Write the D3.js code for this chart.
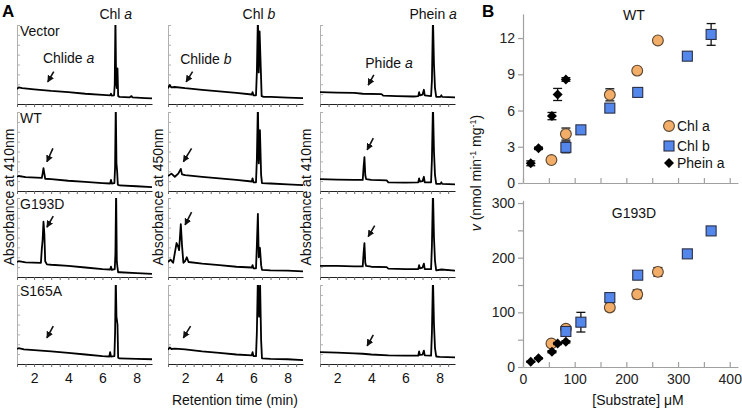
<!DOCTYPE html>
<html><head><meta charset="utf-8">
<script src="https://cdn.jsdelivr.net/npm/d3@7"></script>
<style>body{margin:0;background:#fff}svg{font-family:Arial,"Liberation Sans",sans-serif}</style>
</head><body><svg id="c" width="742" height="411"></svg>
<script>
// ---------- Panel A data ----------
const rowLabels = ["Vector", "WT", "G193D", "S165A"];
const colTitles = [["Chl ", "a"], ["Chl ", "b"], ["Phein ", "a"]];
const titlePeakTimes = [6.78, 6.32, 7.62];
const productLabels = [["Chlide ", "a"], ["Chlide ", "b"], ["Phide ", "a"]];
const productLabelPos = [[2.52, 52], [1.71, 51], [3.65, 46]];
const yAxisLabels = ["Absorbance at 410nm", "Absorbance at 450nm", "Absorbance at 410nm"];
const rtTicksLabeled = [2, 4, 6, 8];
const rtDomain = [1, 8.9];

// traces [time (min), relative absorbance (%)]
const chlA_Vector = [[1,19],[1.1,21],[1.3,20],[2,18.5],[3,16.5],[4,15],[5,13],[6,11.5],[6.45,11],[6.5,13],[6.55,10.5],[6.68,11],[6.72,25],[6.76,110],[6.8,30],[6.84,20],[6.88,45],[6.92,10],[7,9],[7.6,8.5],[7.7,10],[7.75,8.5],[8.5,7.5],[8.9,7]];
const chlA_WT = [[1,18],[1.1,19],[1.5,17.5],[2.45,16.5],[2.5,22],[2.55,29],[2.6,22],[2.65,15.5],[3,15],[4,13],[5,11.5],[6,10],[6.45,9.5],[6.5,14],[6.55,9.5],[6.7,10],[6.74,30],[6.78,110],[6.82,35],[6.86,25],[6.9,8],[7,7],[8,6],[8.9,5]];
const chlA_G193D = [[1,19],[1.1,20],[1.5,18.5],[2.4,18],[2.45,35],[2.5,47],[2.55,70],[2.6,55],[2.65,20],[2.75,16],[3,15.5],[4,14],[5,12],[6,10],[6.45,9.5],[6.5,13],[6.55,9],[6.72,10],[6.76,30],[6.8,110],[6.84,20],[6.88,12],[6.92,6],[7,6],[8,5],[8.9,4]];
const chlA_S165A = [[1,19],[1.1,20],[1.4,18.5],[2,17.5],[3,16],[4,14],[5,12],[6,10],[6.4,9.5],[6.45,15],[6.5,9.5],[6.7,10],[6.74,40],[6.78,110],[6.82,60],[6.88,50],[6.92,8],[7,7],[8,6.5],[8.9,6]];

const chlB_Vector = [[1,20],[1.1,24],[1.2,21],[1.4,21.5],[2,20],[3,18],[4,16],[5,14],[5.9,12],[5.95,15],[6.0,11],[6.15,11],[6.2,40],[6.26,110],[6.31,40],[6.36,92],[6.43,45],[6.48,10],[6.6,9],[7,9],[8,8],[8.9,7.5]];
const chlB_WT = [[1,19],[1.2,22],[1.4,18],[1.6,22],[1.75,28],[1.82,21],[2,20],[3,18],[4,16],[5,14],[5.9,12],[5.95,16],[6.0,11],[6.15,11],[6.2,40],[6.26,110],[6.31,35],[6.38,77],[6.45,20],[6.5,10],[7,9.5],[8,8.5],[8.9,7.5]];
const chlB_G193D = [[1,19],[1.15,22],[1.3,18],[1.5,43],[1.6,38],[1.65,34],[1.75,67],[1.82,40],[1.9,18],[2.0,20],[2.1,25],[2.2,19],[3,17],[4,15],[5,13],[5.9,12],[5.95,15],[6.0,11],[6.15,11],[6.2,40],[6.26,80],[6.31,25],[6.38,37],[6.45,15],[6.5,9],[7,8.5],[8,8],[8.9,7]];
const chlB_S165A = [[1,18],[1.1,21],[1.2,19],[1.4,19.5],[2,18.5],[3,16],[4,14],[5,12],[5.9,11],[5.95,15],[6.0,10],[6.15,10],[6.2,40],[6.26,110],[6.33,60],[6.39,100],[6.45,30],[6.5,7],[7,6.5],[8,6],[8.9,5]];

const phe_Vector = [[1,15],[2,14.5],[3,14],[3.5,13],[4.6,12.5],[4.7,10.5],[5.5,10],[6.5,9.5],[6.75,10],[6.8,15],[6.85,11],[7.0,12],[7.08,18],[7.13,11],[7.5,10],[7.55,30],[7.61,110],[7.67,50],[7.73,20],[7.8,9],[8.05,9],[8.1,11],[8.15,9],[8.9,8.5]];
const phe_WT = [[1,15],[2,14.5],[3,14],[3.5,14],[3.55,30],[3.6,43],[3.65,20],[3.7,15],[4,14],[4.9,13.5],[5,11],[6,10.5],[6.75,11],[6.8,16],[6.85,12],[7.0,12.5],[7.08,18],[7.13,11],[7.5,11],[7.55,40],[7.61,110],[7.67,50],[7.73,20],[7.8,9],[8.05,9],[8.1,11],[8.15,9],[8.9,8.5]];
const phe_G193D = [[1,14],[2,14],[3,13.5],[3.5,13.5],[3.55,30],[3.6,43],[3.65,18],[3.7,14],[4,13],[4.9,12.5],[5,10.5],[6,10],[6.75,10],[6.8,15],[6.85,11],[7.0,12],[7.08,17],[7.13,10],[7.5,10],[7.55,40],[7.61,110],[7.67,50],[7.73,20],[7.8,8.5],[8.1,9.5],[8.9,8]];
const phe_S165A = [[1,15],[2,14.5],[3,13.5],[3.5,13],[4,12],[5,11],[6,10.5],[6.75,10.5],[6.8,16],[6.85,11.5],[7.0,12],[7.08,17],[7.13,11],[7.5,10.5],[7.55,40],[7.61,110],[7.67,50],[7.73,20],[7.8,9.5],[8,9],[8.9,8.5]];

// arrows [tHead, vHead, tTail, vTail] per column, per row
const arrowsA = [
  [[2.8,28,3.15,41],[2.75,37,3.1,54],[2.75,63,3.12,77],[2.75,33,3.12,48]],
  [[2.06,28,2.44,41],[1.9,37,2.38,54],[2.0,66,2.38,82],[1.9,33,2.32,48]],
  [[3.82,24,4.15,37],[3.76,52,4.12,67],[3.82,51,4.2,65],[3.76,23,4.12,37]]
];

// ---------- Panel B data ----------
const subChlA = [55, 83, 168, 221, 261];
const wtChlA = [1.9, 4.05, 7.3, 9.3, 11.8];
const wtChlAErr = [0.15, 0.5, 0.5, 0.2, 0.15];
const gChlA = [43, 70, 109, 133, 174];
const gChlAErr = [3, 5, 6, 8, 8];

const subChlB = [83, 112, 168, 222, 318, 364];
const wtChlB = [2.95, 4.4, 6.2, 7.5, 10.5, 12.3];
const wtChlBErr = [0.45, 0.15, 0.15, 0.15, 0.15, 0.9];
const gChlB = [65, 82, 127, 168, 207, 249];
const gChlBErr = [5, 18, 4, 4, 4, 4];

const subPhe = [15, 30, 56, 67, 83];
const wtPhe = [1.63, 2.87, 5.54, 7.33, 8.57];
const wtPheErr = [0.2, 0.1, 0.3, 0.5, 0.15];
const gPhe = [9.7, 15.8, 28, 43, 46];
const gPheErr = [1, 1, 2, 2, 2];

const seriesNames = ["Chl a", "Chl b", "Phein a"];
const xTicksB = [0, 100, 200, 300, 400];
const xMinorB = [0, 50, 100, 150, 200, 250, 300, 350, 400];
const yTicksWT = [0, 3, 6, 9, 12];
const yTicksG = [0, 100, 200, 300];
const yMinorG = [0, 50, 100, 150, 200, 250, 300];

// ---------- drawing ----------
const svg = d3.select("#c");
const traces = [
  [chlA_Vector, chlA_WT, chlA_G193D, chlA_S165A],
  [chlB_Vector, chlB_WT, chlB_G193D, chlB_S165A],
  [phe_Vector, phe_WT, phe_G193D, phe_S165A]
];
const colLeft = [17, 168, 320], panelW = 135;
const rowTop = [25, 112, 198, 285], panelH = 79;

svg.append("defs").append("marker")
  .attr("id", "ah").attr("viewBox", "0 0 10 10").attr("refX", 9).attr("refY", 5)
  .attr("markerWidth", 7).attr("markerHeight", 7).attr("markerUnits", "userSpaceOnUse")
  .attr("orient", "auto")
  .append("path").attr("d", "M0,0 L10,5 L0,10 Z").attr("fill", "#111");

function richText(g, parts, x, y, anchor) {
  const t = g.append("text").attr("x", x).attr("y", y).attr("font-size", 14)
    .attr("fill", "#111").attr("text-anchor", anchor || "start");
  t.append("tspan").text(parts[0]);
  t.append("tspan").attr("font-style", "italic").text(parts[1]);
  return t;
}

traces.forEach((col, ci) => {
  col.forEach((tr, ri) => {
    const x = d3.scaleLinear(rtDomain, [colLeft[ci], colLeft[ci] + panelW]);
    const y = d3.scaleLinear([0, 100], [rowTop[ri] + panelH, rowTop[ri]]);
    const g = svg.append("g");
    const cid = "clip" + ci + ri;
    svg.select("defs").append("clipPath").attr("id", cid)
      .append("rect").attr("x", colLeft[ci]).attr("y", rowTop[ri])
      .attr("width", panelW).attr("height", panelH);
    const yAx = d3.axisRight(y).tickValues(d3.range(0, 101, 12.5)).tickSize(3).tickFormat("");
    const ya = g.append("g").attr("transform", `translate(${colLeft[ci]},0)`).call(yAx);
    ya.selectAll("path,line").attr("stroke", "#b0b0b0");
    const xAx = d3.axisBottom(x).tickValues(d3.range(1, 9, 0.5)).tickSize(3).tickSizeOuter(0)
      .tickFormat(d => (ri === 3 && rtTicksLabeled.includes(d)) ? d : "");
    const xa = g.append("g").attr("transform", `translate(0,${rowTop[ri] + panelH})`).call(xAx);
    xa.select(".domain").attr("stroke", "#222").attr("stroke-width", 1.2);
    xa.selectAll(".tick line").attr("stroke", "#666");
    xa.selectAll("text").attr("font-size", 14).attr("fill", "#111").attr("dy", "0.95em")
      .attr("font-family", "Arial, 'Liberation Sans', sans-serif");
    g.append("path").datum(tr).attr("clip-path", `url(#${cid})`)
      .attr("d", d3.line().x(d => x(d[0])).y(d => y(d[1])))
      .attr("fill", "none").attr("stroke", "#000").attr("stroke-width", 1.8)
      .attr("stroke-linejoin", "round");
    const a = arrowsA[ci][ri];
    g.append("line").attr("x1", x(a[2])).attr("y1", y(a[3])).attr("x2", x(a[0])).attr("y2", y(a[1]))
      .attr("stroke", "#111").attr("stroke-width", 1.6).attr("marker-end", "url(#ah)");
    if (ri === 0) {
      const p = productLabelPos[ci];
      richText(g, productLabels[ci], x(p[0]), y(p[1]), "start");
      richText(g, colTitles[ci], x(titlePeakTimes[ci]), 19, "middle");
    }
    if (ci === 0) {
      g.append("text").attr("x", colLeft[0] + 3).attr("y", rowTop[ri] + 11)
        .attr("font-size", 14).attr("fill", "#111").text(rowLabels[ri]);
    }
  });
});
[14, 163, 311].forEach((xx, i) => {
  svg.append("text").attr("transform", `translate(${xx},197) rotate(-90)`)
    .attr("text-anchor", "middle").attr("font-size", 14).attr("fill", "#111").text(yAxisLabels[i]);
});
svg.append("text").attr("x", 235).attr("y", 405).attr("text-anchor", "middle")
  .attr("font-size", 14).attr("fill", "#111").text("Retention time (min)");
svg.append("text").attr("x", 2).attr("y", 17).attr("font-size", 17).attr("font-weight", "bold").text("A");
svg.append("text").attr("x", 482).attr("y", 17).attr("font-size", 17).attr("font-weight", "bold").text("B");

// ---------- Panel B ----------
const xB = d3.scaleLinear([0, 416], [523, 738]);
const yWT = d3.scaleLinear([0, 14], [183, 13.9]);
const yG = d3.scaleLinear([0, 305], [367, 200.3]);
const axisGray = "#a0a0a0";

function styleAxis(sel) {
  sel.selectAll("path,line").attr("stroke", axisGray).attr("stroke-width", 1.2);
  sel.selectAll("text").attr("font-size", 14).attr("fill", "#222")
    .attr("font-family", "Arial, 'Liberation Sans', sans-serif");
}
function drawB(y, yTicks, yMinor, labelX, data, title, titleY) {
  const gx = svg.append("g").attr("transform", `translate(0,${y.range()[0]})`)
    .call(d3.axisTop(xB).tickValues(xMinorB).tickSize(5).tickSizeOuter(0).tickFormat(""));
  styleAxis(gx);
  if (labelX) {
    const gl = svg.append("g").attr("transform", `translate(0,${y.range()[0]})`)
      .call(d3.axisBottom(xB).tickValues(xTicksB).tickSize(0).tickPadding(5));
    gl.select(".domain").remove();
    styleAxis(gl);
    gl.selectAll("text").attr("dy", "0.85em");
  }
  const gy = svg.append("g").attr("transform", `translate(${xB.range()[0]},0)`)
    .call(d3.axisLeft(y).tickValues(yMinor).tickSize(5).tickSizeOuter(0)
      .tickFormat(d => yTicks.includes(d) ? d : "").tickPadding(3));
  styleAxis(gy);
  svg.append("text").attr("x", 634).attr("y", titleY).attr("text-anchor", "middle")
    .attr("font-size", 14).attr("fill", "#111").text(title);
  data.forEach(s => {
    const eg = svg.append("g");
    s.x.forEach((xv, i) => {
      const cx = xB(xv), y1 = y(s.y[i] + s.e[i]), y2 = y(s.y[i] - s.e[i]);
      eg.append("line").attr("x1", cx).attr("x2", cx).attr("y1", y1).attr("y2", y2)
        .attr("stroke", "#111").attr("stroke-width", 1.3);
      [y1, y2].forEach(yy => eg.append("line").attr("x1", cx - 4.5).attr("x2", cx + 4.5)
        .attr("y1", yy).attr("y2", yy).attr("stroke", "#111").attr("stroke-width", 1.3));
    });
    s.x.forEach((xv, i) => drawMarker(svg, s.type, xB(xv), y(s.y[i])));
  });
}
function drawMarker(g, type, cx, cy) {
  if (type === 0) {
    g.append("circle").attr("cx", cx).attr("cy", cy).attr("r", 5.4)
      .attr("fill", "#f2ad68").attr("stroke", "#5a4530").attr("stroke-width", 1.1);
  } else if (type === 1) {
    g.append("rect").attr("x", cx - 5).attr("y", cy - 5).attr("width", 10).attr("height", 10)
      .attr("fill", "#5487ec").attr("stroke", "#2a2f45").attr("stroke-width", 1.1);
  } else {
    g.append("path").attr("d", `M${cx},${cy - 5}L${cx + 5},${cy}L${cx},${cy + 5}L${cx - 5},${cy}Z`)
      .attr("fill", "#000");
  }
}
drawB(yWT, yTicksWT, yTicksWT, false, [
  {type: 0, x: subChlA, y: wtChlA, e: wtChlAErr},
  {type: 1, x: subChlB, y: wtChlB, e: wtChlBErr},
  {type: 2, x: subPhe, y: wtPhe, e: wtPheErr}
], "WT", 20);
drawB(yG, yTicksG, yMinorG, true, [
  {type: 0, x: subChlA, y: gChlA, e: gChlAErr},
  {type: 1, x: subChlB, y: gChlB, e: gChlBErr},
  {type: 2, x: subPhe, y: gPhe, e: gPheErr}
], "G193D", 218);

[126, 146, 163].forEach((ly, i) => {
  drawMarker(svg, i, 669, ly);
  svg.append("text").attr("x", 677).attr("y", ly + 5).attr("font-size", 14).attr("fill", "#111")
    .text(seriesNames[i]);
});

const yl = svg.append("text").attr("transform", "translate(481,173) rotate(-90)")
  .attr("text-anchor", "middle").attr("font-size", 14).attr("fill", "#111");
yl.append("tspan").attr("font-style", "italic").text("v");
yl.append("tspan").text(" (nmol min");
yl.append("tspan").attr("font-size", 9).attr("dy", -5).text("-1");
yl.append("tspan").attr("dy", 5).text(" mg");
yl.append("tspan").attr("font-size", 9).attr("dy", -5).text("-1");
yl.append("tspan").attr("dy", 5).text(")");
svg.append("text").attr("x", 638).attr("y", 405).attr("text-anchor", "middle")
  .attr("font-size", 14).attr("fill", "#111").text("[Substrate] \u03BCM");
</script></body></html>
